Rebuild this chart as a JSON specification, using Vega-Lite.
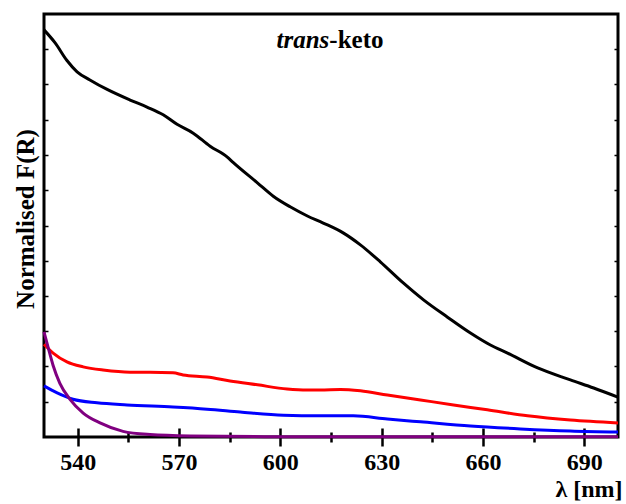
{
  "$schema": "https://vega.github.io/schema/vega-lite/v6.json",
  "width": 574,
  "height": 423,
  "autosize": "none",
  "padding": {"left": 44, "top": 14, "right": 8, "bottom": 67},
  "background": "white",
  "config": {
    "view": {"stroke": "black", "strokeWidth": 3},
    "axis": {"domain": false, "tickColor": "black", "labelColor": "black", "titleColor": "black", "labelFont": "Liberation Serif", "titleFont": "Liberation Serif", "labelFontWeight": "bold", "titleFontWeight": "bold"}
  },
  "data": {
    "values": [
      {"s": "k", "x": 530.0, "y": 1.155}, {"s": "k", "x": 533.3, "y": 1.118}, {"s": "k", "x": 536.8, "y": 1.068},
      {"s": "k", "x": 539.8, "y": 1.036}, {"s": "k", "x": 543.6, "y": 1.013}, {"s": "k", "x": 548.7, "y": 0.986},
      {"s": "k", "x": 555.5, "y": 0.956}, {"s": "k", "x": 560.5, "y": 0.936}, {"s": "k", "x": 565.3, "y": 0.914},
      {"s": "k", "x": 569.4, "y": 0.887}, {"s": "k", "x": 574.2, "y": 0.862}, {"s": "k", "x": 579.2, "y": 0.825},
      {"s": "k", "x": 584.3, "y": 0.794}, {"s": "k", "x": 586.0, "y": 0.779}, {"s": "k", "x": 593.2, "y": 0.721},
      {"s": "k", "x": 597.9, "y": 0.683}, {"s": "k", "x": 602.9, "y": 0.653}, {"s": "k", "x": 608.0, "y": 0.627},
      {"s": "k", "x": 612.7, "y": 0.607}, {"s": "k", "x": 618.6, "y": 0.579}, {"s": "k", "x": 623.7, "y": 0.545},
      {"s": "k", "x": 629.6, "y": 0.497}, {"s": "k", "x": 636.4, "y": 0.437}, {"s": "k", "x": 642.4, "y": 0.389},
      {"s": "k", "x": 649.5, "y": 0.340}, {"s": "k", "x": 656.3, "y": 0.295}, {"s": "k", "x": 662.2, "y": 0.261},
      {"s": "k", "x": 667.3, "y": 0.238}, {"s": "k", "x": 676.2, "y": 0.196}, {"s": "k", "x": 685.9, "y": 0.162},
      {"s": "k", "x": 692.8, "y": 0.139}, {"s": "k", "x": 700.0, "y": 0.113},

      {"s": "r", "x": 530.0, "y": 0.263}, {"s": "r", "x": 532.7, "y": 0.238}, {"s": "r", "x": 536.8, "y": 0.213},
      {"s": "r", "x": 541.6, "y": 0.199}, {"s": "r", "x": 547.5, "y": 0.190}, {"s": "r", "x": 555.5, "y": 0.184},
      {"s": "r", "x": 561.4, "y": 0.184}, {"s": "r", "x": 568.2, "y": 0.182}, {"s": "r", "x": 571.2, "y": 0.176},
      {"s": "r", "x": 578.3, "y": 0.170}, {"s": "r", "x": 585.1, "y": 0.159}, {"s": "r", "x": 593.2, "y": 0.148},
      {"s": "r", "x": 602.0, "y": 0.136}, {"s": "r", "x": 608.0, "y": 0.133}, {"s": "r", "x": 611.8, "y": 0.133},
      {"s": "r", "x": 617.8, "y": 0.135}, {"s": "r", "x": 623.7, "y": 0.131}, {"s": "r", "x": 631.7, "y": 0.119},
      {"s": "r", "x": 641.5, "y": 0.105}, {"s": "r", "x": 651.3, "y": 0.091}, {"s": "r", "x": 661.3, "y": 0.077},
      {"s": "r", "x": 673.2, "y": 0.060}, {"s": "r", "x": 685.9, "y": 0.048}, {"s": "r", "x": 700.0, "y": 0.040},

      {"s": "b", "x": 530.0, "y": 0.145}, {"s": "b", "x": 533.9, "y": 0.125}, {"s": "b", "x": 538.6, "y": 0.107},
      {"s": "b", "x": 545.7, "y": 0.097}, {"s": "b", "x": 554.6, "y": 0.091}, {"s": "b", "x": 568.2, "y": 0.085},
      {"s": "b", "x": 578.3, "y": 0.079}, {"s": "b", "x": 588.1, "y": 0.071}, {"s": "b", "x": 600.9, "y": 0.062},
      {"s": "b", "x": 611.8, "y": 0.060}, {"s": "b", "x": 621.6, "y": 0.060}, {"s": "b", "x": 631.7, "y": 0.051},
      {"s": "b", "x": 641.5, "y": 0.043}, {"s": "b", "x": 656.3, "y": 0.031}, {"s": "b", "x": 671.1, "y": 0.023},
      {"s": "b", "x": 685.9, "y": 0.017}, {"s": "b", "x": 700.0, "y": 0.014},

      {"s": "p", "x": 530.0, "y": 0.298}, {"s": "p", "x": 531.2, "y": 0.255}, {"s": "p", "x": 532.7, "y": 0.203},
      {"s": "p", "x": 534.7, "y": 0.152}, {"s": "p", "x": 537.7, "y": 0.107}, {"s": "p", "x": 541.6, "y": 0.068},
      {"s": "p", "x": 546.6, "y": 0.040}, {"s": "p", "x": 553.4, "y": 0.016}, {"s": "p", "x": 561.4, "y": 0.007},
      {"s": "p", "x": 573.3, "y": 0.003}, {"s": "p", "x": 600.0, "y": 0.001}, {"s": "p", "x": 650.0, "y": 0.001},
      {"s": "p", "x": 700.0, "y": 0.001}
    ]
  },
  "layer": [
    {
      "mark": {"type": "line", "strokeWidth": 3, "interpolate": "monotone"},
      "encoding": {
        "x": {
          "field": "x", "type": "quantitative",
          "scale": {"domain": [530, 700], "nice": false, "zero": false},
          "axis": {
            "values": [540, 555, 570, 585, 600, 615, 630, 645, 660, 675, 690],
            "ticks": true,
            "tickSize": {"condition": {"test": "datum.value % 30 === 0", "value": 9}, "value": 5},
            "tickWidth": 2.5,
            "grid": true, "gridColor": "black", "gridWidth": 2.5,
            "gridDash": {"condition": {"test": "datum.value % 30 === 0", "value": [0, 414, 9, 1000]}, "value": [0, 418, 5, 1000]},
            "labelExpr": "datum.value % 30 === 0 ? datum.label : ''",
            "labelFontSize": 24, "labelPadding": 4, "labelFlush": false,
            "title": "λ [nm]", "titleFontSize": 24, "titleX": 578, "titleY": 59, "titleAlign": "right", "titleBaseline": "alphabetic"
          }
        },
        "y": {
          "field": "y", "type": "quantitative",
          "scale": {"domain": [0, 1.2], "nice": false},
          "axis": {
            "values": [0.1, 0.2, 0.3, 0.4, 0.5, 0.6, 0.7, 0.8, 0.9, 1.0, 1.1],
            "tickSize": -4, "tickWidth": 1.5, "labels": false,
            "grid": true, "gridColor": "black", "gridWidth": 1.5, "gridDash": [0, 570, 4, 1000],
            "title": "Normalised F(R)", "titleFontSize": 25, "titleAngle": 270, "titleX": -11, "titleY": 204.5,
            "titleAlign": "center", "titleBaseline": "alphabetic"
          }
        },
        "color": {
          "field": "s", "type": "nominal",
          "scale": {"domain": ["k", "r", "b", "p"], "range": ["#000000", "#ff0000", "#0000ff", "#800080"]},
          "legend": null
        }
      }
    },
    {
      "data": {"values": [{"t": "trans", "x": 614.5, "y": 1.104}]},
      "mark": {"type": "text", "font": "Liberation Serif", "fontSize": 25, "fontStyle": "italic", "fontWeight": "bold", "align": "right", "baseline": "alphabetic", "color": "black"},
      "encoding": {
        "text": {"field": "t"},
        "x": {"field": "x", "type": "quantitative"},
        "y": {"field": "y", "type": "quantitative"}
      }
    },
    {
      "data": {"values": [{"t": "-keto", "x": 614.5, "y": 1.104}]},
      "mark": {"type": "text", "font": "Liberation Serif", "fontSize": 25, "fontWeight": "bold", "align": "left", "baseline": "alphabetic", "color": "black"},
      "encoding": {
        "text": {"field": "t"},
        "x": {"field": "x", "type": "quantitative"},
        "y": {"field": "y", "type": "quantitative"}
      }
    }
  ]
}
